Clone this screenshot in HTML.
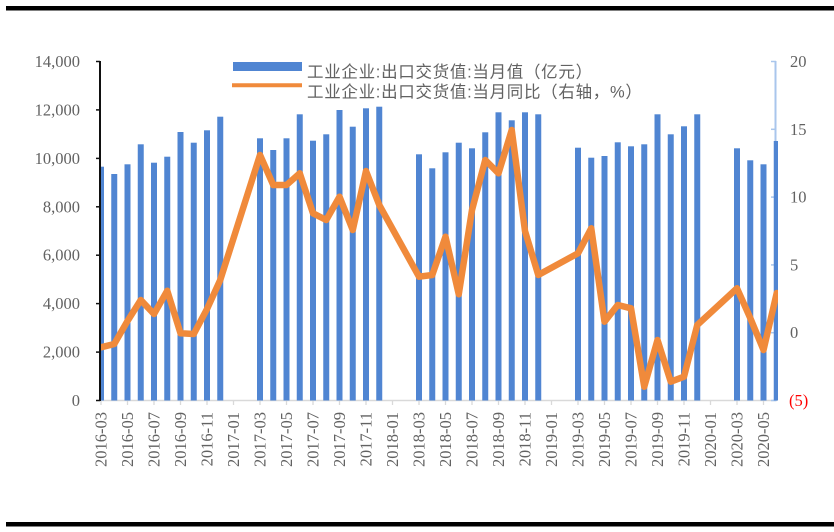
<!DOCTYPE html>
<html>
<head>
<meta charset="utf-8">
<style>
html,body{margin:0;padding:0;background:#fff;}
svg{display:block;}
.tk{font-family:"Liberation Serif","Noto Serif CJK SC",serif;font-size:16.5px;fill:#626262;}
.lg{font-family:"Liberation Sans","Noto Sans CJK SC",sans-serif;font-size:16.5px;fill:#626262;letter-spacing:0.7px;}
</style>
</head>
<body>
<svg width="834" height="532" viewBox="0 0 834 532" xmlns="http://www.w3.org/2000/svg">
<rect x="0" y="0" width="834" height="532" fill="#fff"/>
<!-- frame bars -->
<rect x="6" y="6" width="828" height="4.5" fill="#000"/>
<rect x="6" y="522" width="828" height="4.5" fill="#000"/>

<defs>
<clipPath id="pa"><rect x="99" y="40" width="679" height="361"/></clipPath>
</defs>

<!-- x axis -->
<line x1="99" y1="400.5" x2="777" y2="400.5" stroke="#D9D9D9" stroke-width="1.5"/>
<g stroke="#D9D9D9" stroke-width="1.3">
<line x1="101" y1="400" x2="101" y2="405"/>
<line x1="127.5" y1="400" x2="127.5" y2="405"/>
<line x1="154" y1="400" x2="154" y2="405"/>
<line x1="180.5" y1="400" x2="180.5" y2="405"/>
<line x1="207" y1="400" x2="207" y2="405"/>
<line x1="233.5" y1="400" x2="233.5" y2="405"/>
<line x1="260" y1="400" x2="260" y2="405"/>
<line x1="286.5" y1="400" x2="286.5" y2="405"/>
<line x1="313" y1="400" x2="313" y2="405"/>
<line x1="339.5" y1="400" x2="339.5" y2="405"/>
<line x1="366" y1="400" x2="366" y2="405"/>
<line x1="392.5" y1="400" x2="392.5" y2="405"/>
<line x1="419" y1="400" x2="419" y2="405"/>
<line x1="445.5" y1="400" x2="445.5" y2="405"/>
<line x1="472" y1="400" x2="472" y2="405"/>
<line x1="498.5" y1="400" x2="498.5" y2="405"/>
<line x1="525" y1="400" x2="525" y2="405"/>
<line x1="551.5" y1="400" x2="551.5" y2="405"/>
<line x1="578" y1="400" x2="578" y2="405"/>
<line x1="604.5" y1="400" x2="604.5" y2="405"/>
<line x1="631" y1="400" x2="631" y2="405"/>
<line x1="657.5" y1="400" x2="657.5" y2="405"/>
<line x1="684" y1="400" x2="684" y2="405"/>
<line x1="710.5" y1="400" x2="710.5" y2="405"/>
<line x1="737" y1="400" x2="737" y2="405"/>
<line x1="763.5" y1="400" x2="763.5" y2="405"/>
</g>

<!-- right axis -->
<line x1="775.5" y1="61" x2="775.5" y2="401" stroke="#A9C6EC" stroke-width="2"/>
<g stroke="#A9C6EC" stroke-width="1.5">
<line x1="771" y1="61.5" x2="776" y2="61.5"/>
<line x1="771" y1="129.3" x2="776" y2="129.3"/>
<line x1="771" y1="197.1" x2="776" y2="197.1"/>
<line x1="771" y1="264.9" x2="776" y2="264.9"/>
<line x1="771" y1="332.7" x2="776" y2="332.7"/>
<line x1="771" y1="400.5" x2="776" y2="400.5"/>
</g>

<!-- bars -->
<g fill="#5085D2" clip-path="url(#pa)">
<rect x="98" y="166.7" width="6" height="233.8"/>
<rect x="111.25" y="174" width="6" height="226.5"/>
<rect x="124.5" y="164.3" width="6" height="236.2"/>
<rect x="137.75" y="144.3" width="6" height="256.2"/>
<rect x="151" y="162.7" width="6" height="237.8"/>
<rect x="164.25" y="156.7" width="6" height="243.8"/>
<rect x="177.5" y="132" width="6" height="268.5"/>
<rect x="190.75" y="142.7" width="6" height="257.8"/>
<rect x="204" y="130.3" width="6" height="270.2"/>
<rect x="217.25" y="116.7" width="6" height="283.8"/>
<rect x="257" y="138.3" width="6" height="262.2"/>
<rect x="270.25" y="150" width="6" height="250.5"/>
<rect x="283.5" y="138.3" width="6" height="262.2"/>
<rect x="296.75" y="114.3" width="6" height="286.2"/>
<rect x="310" y="140.7" width="6" height="259.8"/>
<rect x="323.25" y="134.3" width="6" height="266.2"/>
<rect x="336.5" y="110" width="6" height="290.5"/>
<rect x="349.75" y="126.7" width="6" height="273.8"/>
<rect x="363" y="108.3" width="6" height="292.2"/>
<rect x="376.25" y="106.7" width="6" height="293.8"/>
<rect x="416" y="154.3" width="6" height="246.2"/>
<rect x="429.25" y="168.3" width="6" height="232.2"/>
<rect x="442.5" y="152.3" width="6" height="248.2"/>
<rect x="455.75" y="142.7" width="6" height="257.8"/>
<rect x="469" y="148.3" width="6" height="252.2"/>
<rect x="482.25" y="132.3" width="6" height="268.2"/>
<rect x="495.5" y="112.3" width="6" height="288.2"/>
<rect x="508.75" y="120.3" width="6" height="280.2"/>
<rect x="522" y="112.3" width="6" height="288.2"/>
<rect x="535.25" y="114.3" width="6" height="286.2"/>
<rect x="575" y="147.7" width="6" height="252.8"/>
<rect x="588.25" y="157.7" width="6" height="242.8"/>
<rect x="601.5" y="156" width="6" height="244.5"/>
<rect x="614.75" y="142.3" width="6" height="258.2"/>
<rect x="628" y="146.3" width="6" height="254.2"/>
<rect x="641.25" y="144.3" width="6" height="256.2"/>
<rect x="654.5" y="114.3" width="6" height="286.2"/>
<rect x="667.75" y="134.3" width="6" height="266.2"/>
<rect x="681" y="126.3" width="6" height="274.2"/>
<rect x="694.25" y="114.3" width="6" height="286.2"/>
<rect x="734" y="148.3" width="6" height="252.2"/>
<rect x="747.25" y="160.3" width="6" height="240.2"/>
<rect x="760.5" y="164.3" width="6" height="236.2"/>
<rect x="773.75" y="141" width="6" height="259.5"/>
</g>

<!-- line series -->
<polyline clip-path="url(#pa)" fill="none" stroke="#F08A3B" stroke-width="6.5" stroke-linejoin="round" stroke-linecap="round"
points="101,347.3 114.25,344 127.5,321 140.75,300 154,314 167.25,290.7 180.5,333.3 193.75,334 207,309 220.25,280 260,155 273.25,185 286.5,185 299.75,173.3 313,213.3 326.25,220 339.5,196.7 352.75,230 366,171 379.25,205 419,276.7 432.25,275 445.5,236.7 458.75,294.3 472,210 485.25,160 498.5,173.3 511.75,130 525,231 538.25,275 578,253.3 591.25,228.3 604.5,321.7 617.75,305 631,308.3 644.25,386.7 657.5,340 670.75,381.7 684,376.7 697.25,325 737,288.3 750.25,318 763.5,350 776.75,293"/>

<!-- left axis -->
<line x1="100" y1="61" x2="100" y2="401" stroke="#111" stroke-width="2"/>
<g stroke="#111" stroke-width="1.5">
<line x1="96" y1="61.5" x2="100" y2="61.5"/>
<line x1="96" y1="109.9" x2="100" y2="109.9"/>
<line x1="96" y1="158.4" x2="100" y2="158.4"/>
<line x1="96" y1="206.8" x2="100" y2="206.8"/>
<line x1="96" y1="255.2" x2="100" y2="255.2"/>
<line x1="96" y1="303.6" x2="100" y2="303.6"/>
<line x1="96" y1="352.1" x2="100" y2="352.1"/>
<line x1="96" y1="400.5" x2="100" y2="400.5"/>
</g>

<!-- left tick labels -->
<g class="tk" text-anchor="end">
<text x="80" y="67">14,000</text>
<text x="80" y="115.4">12,000</text>
<text x="80" y="163.9">10,000</text>
<text x="80" y="212.3">8,000</text>
<text x="80" y="260.7">6,000</text>
<text x="80" y="309.1">4,000</text>
<text x="80" y="357.6">2,000</text>
<text x="80" y="406">0</text>
</g>

<!-- right tick labels -->
<g class="tk">
<text x="790" y="67">20</text>
<text x="790" y="134.8">15</text>
<text x="790" y="202.6">10</text>
<text x="790" y="270.4">5</text>
<text x="790" y="338.2">0</text>
<text x="789" y="406" fill="#FF0000" style="fill:#FF0000">(5)</text>
</g>

<!-- x labels -->
<g class="tk" text-anchor="end">
<text transform="translate(106.5,412) rotate(-90)">2016-03</text>
<text transform="translate(133,412) rotate(-90)">2016-05</text>
<text transform="translate(159.5,412) rotate(-90)">2016-07</text>
<text transform="translate(186,412) rotate(-90)">2016-09</text>
<text transform="translate(212.5,412) rotate(-90)">2016-11</text>
<text transform="translate(239,412) rotate(-90)">2017-01</text>
<text transform="translate(265.5,412) rotate(-90)">2017-03</text>
<text transform="translate(292,412) rotate(-90)">2017-05</text>
<text transform="translate(318.5,412) rotate(-90)">2017-07</text>
<text transform="translate(345,412) rotate(-90)">2017-09</text>
<text transform="translate(371.5,412) rotate(-90)">2017-11</text>
<text transform="translate(398,412) rotate(-90)">2018-01</text>
<text transform="translate(424.5,412) rotate(-90)">2018-03</text>
<text transform="translate(451,412) rotate(-90)">2018-05</text>
<text transform="translate(477.5,412) rotate(-90)">2018-07</text>
<text transform="translate(504,412) rotate(-90)">2018-09</text>
<text transform="translate(530.5,412) rotate(-90)">2018-11</text>
<text transform="translate(557,412) rotate(-90)">2019-01</text>
<text transform="translate(583.5,412) rotate(-90)">2019-03</text>
<text transform="translate(610,412) rotate(-90)">2019-05</text>
<text transform="translate(636.5,412) rotate(-90)">2019-07</text>
<text transform="translate(663,412) rotate(-90)">2019-09</text>
<text transform="translate(689.5,412) rotate(-90)">2019-11</text>
<text transform="translate(716,412) rotate(-90)">2020-01</text>
<text transform="translate(742.5,412) rotate(-90)">2020-03</text>
<text transform="translate(769,412) rotate(-90)">2020-05</text>
</g>

<!-- legend -->
<rect x="233" y="62" width="69" height="9" fill="#5085D2"/>
<line x1="232" y1="85.3" x2="302" y2="85.3" stroke="#F08A3B" stroke-width="4"/>
<text class="lg" x="307" y="77.5">工业企业:出口交货值:当月值（亿元）</text>
<text class="lg" x="307" y="97.5">工业企业:出口交货值:当月同比（右轴，%）</text>
</svg>
</body>
</html>
